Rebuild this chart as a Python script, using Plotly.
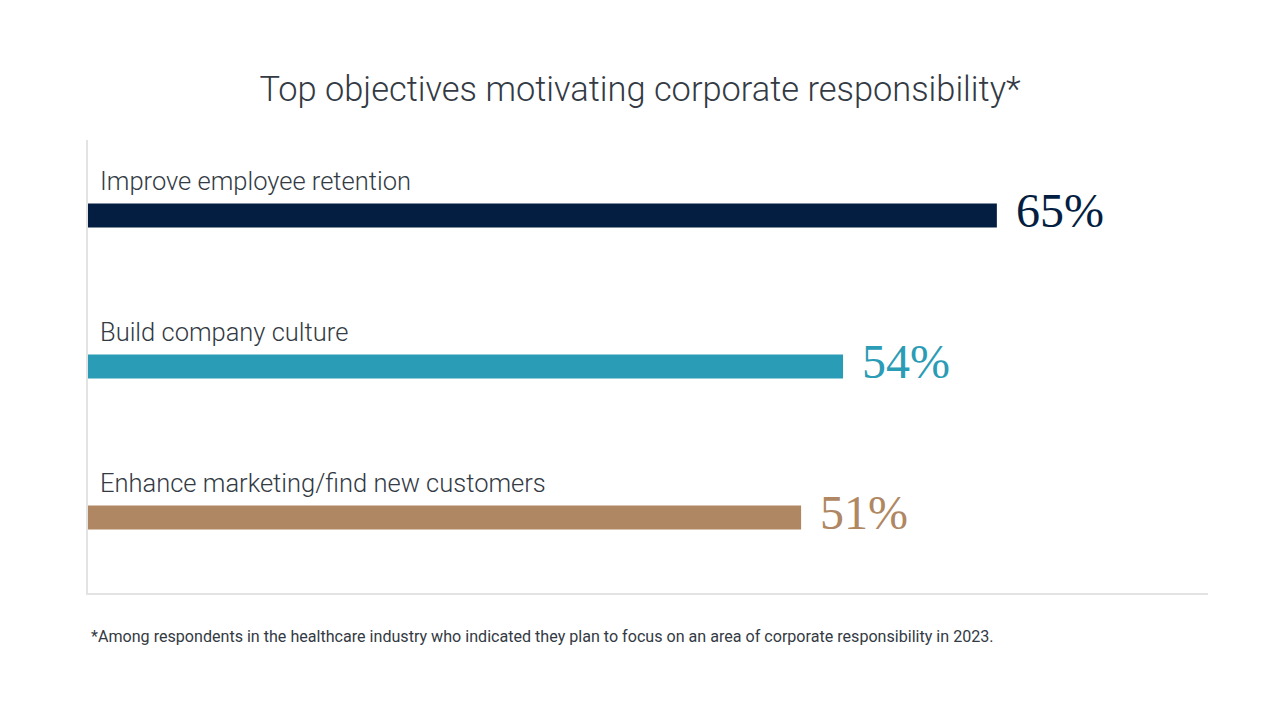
import plotly.graph_objects as go

# Data
categories = ['Improve employee retention', 'Build company culture', 'Enhance marketing/find new customers']
values = [65, 54, 51]
colors = ['#041e42', '#2b9cb5', '#b08763']

title = 'Top objectives motivating corporate responsibility*'
footnote = '*Among respondents in the healthcare industry who indicated they plan to focus on an area of corporate responsibility in 2023.'

fig = go.Figure(go.Bar(
    x=values,
    y=categories,
    orientation='h',
    width=0.16,
    marker=dict(color=colors, line=dict(width=0)),
    hoverinfo='skip',
))

annotations = []
for cat, val, col in zip(categories, values, colors):
    # category label above bar
    annotations.append(dict(x=0, y=cat, xref='x', yref='y', text=cat, showarrow=False,
                            xanchor='left', yanchor='middle', xshift=10, yshift=35,
                            font=dict(family='Roboto', size=25.5, color='#333a44', weight=300)))
    # value label at bar end
    annotations.append(dict(x=val, y=cat, xref='x', yref='y', text=f'{val}%', showarrow=False,
                            xanchor='left', yanchor='middle', xshift=17, yshift=5,
                            font=dict(family='Liberation Serif', size=48, color=col)))

# page body adds 8px offset, so margins are set 8px smaller on left/top
L, R, T, B = 80, 80, 132, 116
pw, ph = 1280 - L - R, 701 - T - B

annotations.append(dict(x=(89 - 88) / pw, y=-(636 - 593) / ph, xref='paper', yref='paper',
                        text=footnote, showarrow=False, xanchor='left', yanchor='middle',
                        font=dict(family='Roboto', size=16.1, color='#333a44')))

fig.update_layout(
    width=1280, height=701,
    margin=dict(l=L, r=R, t=T, b=B),
    paper_bgcolor='white', plot_bgcolor='white',
    showlegend=False,
    title=dict(text=title, x=0.5 - 8 / 1280, xanchor='center', y=1 - 81 / 701, yanchor='middle',
               font=dict(family='Roboto', size=34.4, color='#333a44', weight=300)),
    xaxis=dict(range=[0, 80.1], showgrid=False, zeroline=False, showticklabels=False,
               ticks='', showline=True, linecolor='#e3e3e3', linewidth=2, fixedrange=True),
    yaxis=dict(range=[2.5, -0.5], showgrid=False, zeroline=False, showticklabels=False,
               ticks='', showline=True, linecolor='#e3e3e3', linewidth=2, fixedrange=True),
    annotations=annotations,
)

fig.write_html('out.html')
